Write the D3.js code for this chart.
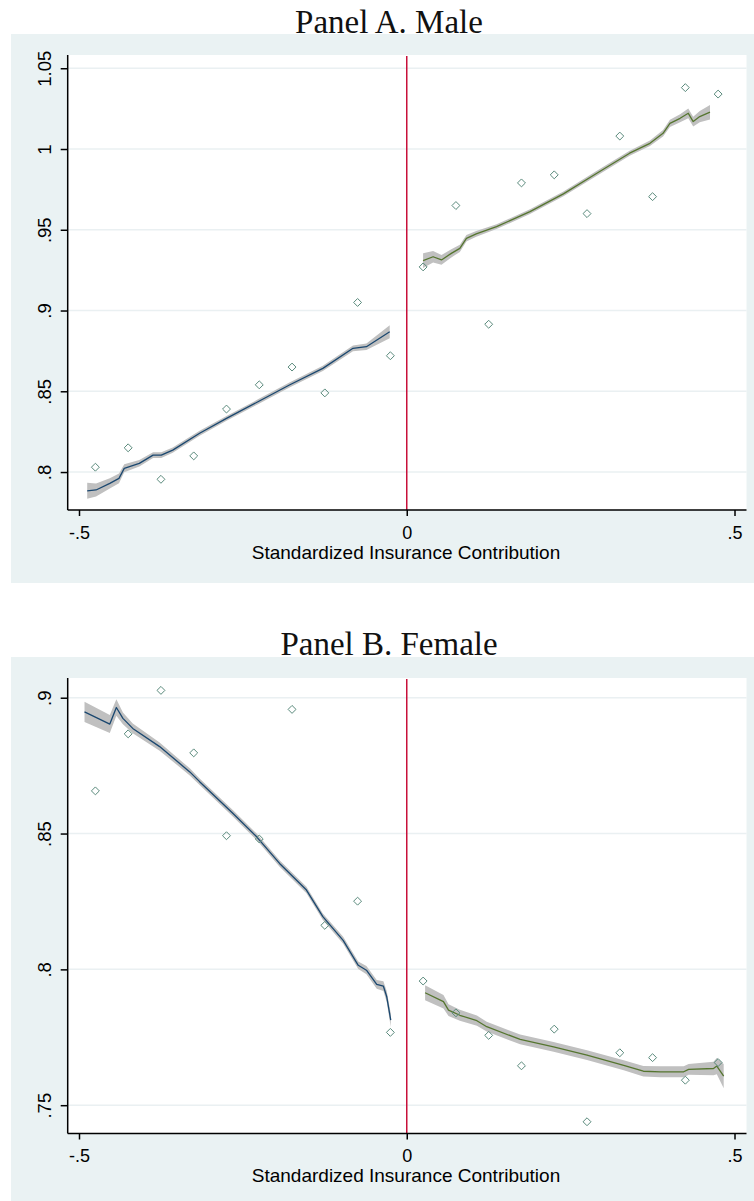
<!DOCTYPE html>
<html>
<head>
<meta charset="utf-8">
<script src="https://cdn.jsdelivr.net/npm/d3@7"></script>
<style>
  html, body { margin: 0; padding: 0; background: #ffffff; }
  svg { display: block; }
</style>
</head>
<body>
<svg id="chart" width="754" height="1201"></svg>
<script>
// ---- Data -----------------------------------------------------------------
const panelTitles = ["Panel A. Male", "Panel B. Female"];
const xAxisTitle = "Standardized Insurance Contribution";

const xTickValues = [-0.5, 0, 0.5];
const xTickLabels = ["-.5", "0", ".5"];

const maleYTickValues = [0.8, 0.85, 0.9, 0.95, 1, 1.05];
const maleYTickLabels = [".8", ".85", ".9", ".95", "1", "1.05"];
const femaleYTickValues = [0.75, 0.8, 0.85, 0.9];
const femaleYTickLabels = [".75", ".8", ".85", ".9"];

// bin centres of the scatter (binned means)
const binCenters = [-0.475, -0.425, -0.375, -0.325, -0.275, -0.225, -0.175, -0.125, -0.075, -0.025,
                    0.025, 0.075, 0.125, 0.175, 0.225, 0.275, 0.325, 0.375, 0.425, 0.475];
const maleBinMeans = [0.803, 0.815, 0.7955, 0.810, 0.839, 0.854, 0.865, 0.849, 0.905, 0.872,
                      0.927, 0.965, 0.8915, 0.979, 0.984, 0.960, 1.008, 0.9705, 1.038, 1.034];
const femaleBinMeans = [0.8657, 0.8867, 0.9027, 0.8797, 0.8492, 0.848, 0.8957, 0.8162, 0.8251, 0.7768,
                        0.7957, 0.784, 0.7757, 0.7645, 0.778, 0.7439, 0.7693, 0.7675, 0.7592, 0.7657];

// local fits below the cutoff (x, fitted value, CI half-width)
const maleLeftX    = [-0.4875, -0.474, -0.453, -0.439, -0.431, -0.408, -0.387, -0.3745, -0.357, -0.316, -0.275, -0.227, -0.179, -0.128, -0.082, -0.0615, -0.026];
const maleLeftFit  = [0.7884, 0.7889, 0.793, 0.7961, 0.8023, 0.8054, 0.8105, 0.8105, 0.8136, 0.824, 0.8332, 0.8435, 0.8539, 0.8642, 0.8766, 0.8776, 0.8869];
const maleLeftCI   = [0.005, 0.004, 0.0032, 0.003, 0.0025, 0.002, 0.0018, 0.0018, 0.0016, 0.0015, 0.0015, 0.0015, 0.0015, 0.0016, 0.0018, 0.002, 0.004];

// local fits above the cutoff
const maleRightX   = [0.0249, 0.0402, 0.053, 0.068, 0.081, 0.091, 0.106, 0.137, 0.188, 0.239, 0.290, 0.340, 0.371, 0.391, 0.4015, 0.417, 0.4295, 0.437, 0.447, 0.4626];
const maleRightFit = [0.9309, 0.9333, 0.9313, 0.9354, 0.9385, 0.9447, 0.9474, 0.9519, 0.9612, 0.9722, 0.985, 0.9974, 1.0035, 1.0097, 1.0159, 1.019, 1.0221, 1.017, 1.0201, 1.0228];
const maleRightCI  = [0.0045, 0.0035, 0.003, 0.0025, 0.0022, 0.002, 0.0018, 0.0015, 0.0015, 0.0015, 0.0015, 0.0015, 0.0017, 0.002, 0.0022, 0.0025, 0.003, 0.003, 0.0035, 0.0045];

const femaleLeftX   = [-0.4916, -0.453, -0.443, -0.433, -0.418, -0.377, -0.331, -0.316, -0.265, -0.229, -0.194, -0.153, -0.128, -0.097, -0.074, -0.0615, -0.0458, -0.0356, -0.0305, -0.0244];
const femaleLeftFit = [0.8948, 0.8903, 0.8964, 0.8924, 0.8887, 0.882, 0.8727, 0.8691, 0.8574, 0.8488, 0.839, 0.8292, 0.8194, 0.8107, 0.8015, 0.7997, 0.7945, 0.7938, 0.7899, 0.7813];
const femaleLeftCI  = [0.0037, 0.0033, 0.003, 0.0022, 0.0018, 0.0015, 0.0013, 0.0012, 0.0012, 0.0012, 0.0012, 0.0012, 0.0012, 0.0013, 0.0014, 0.0015, 0.0016, 0.0018, 0.002, 0.0025];

const femaleRightX   = [0.028, 0.056, 0.0637, 0.081, 0.107, 0.122, 0.173, 0.224, 0.275, 0.331, 0.361, 0.387, 0.4225, 0.43, 0.468, 0.473, 0.4835];
const femaleRightFit = [0.7914, 0.7881, 0.785, 0.7831, 0.7811, 0.7789, 0.7742, 0.7715, 0.7684, 0.7647, 0.7625, 0.7623, 0.7623, 0.7632, 0.7635, 0.7644, 0.7607];
const femaleRightCI  = [0.0028, 0.0025, 0.0022, 0.002, 0.0019, 0.0018, 0.0018, 0.0018, 0.0018, 0.0018, 0.0019, 0.002, 0.002, 0.002, 0.0025, 0.003, 0.0045];

// ---- Styling ----------------------------------------------------------------
const COL = {
  region: "#eaf2f3",
  grid: "#eaf0f2",
  band: "#c0c0c0",
  left: "#1a476f",
  right: "#55752f",
  marker: "#5a8a7c",
  cutoff: "#c8103a"
};

const svg = d3.select("#chart");

const panels = [
  {
    title: panelTitles[0], titleY: 32.5,
    regionTop: 34, regionBottom: 583,
    plotTop: 55, plotBottom: 510,
    yDomain: [0.7765, 1.0582],
    yTicks: maleYTickValues, yLabels: maleYTickLabels,
    means: maleBinMeans,
    fits: [
      { x: maleLeftX, fit: maleLeftFit, ci: maleLeftCI, color: COL.left },
      { x: maleRightX, fit: maleRightFit, ci: maleRightCI, color: COL.right }
    ]
  },
  {
    title: panelTitles[1], titleY: 655,
    regionTop: 657, regionBottom: 1201,
    plotTop: 678, plotBottom: 1133.5,
    yDomain: [0.73958, 0.90726],
    yTicks: femaleYTickValues, yLabels: femaleYTickLabels,
    means: femaleBinMeans,
    fits: [
      { x: femaleLeftX, fit: femaleLeftFit, ci: femaleLeftCI, color: COL.left },
      { x: femaleRightX, fit: femaleRightFit, ci: femaleRightCI, color: COL.right }
    ]
  }
];

const plotLeft = 67.7, plotRight = 746.5;
const x = d3.scaleLinear().domain([-0.51724, 0.5183]).range([plotLeft, plotRight]);

panels.forEach(p => {
  const g = svg.append("g");
  const y = d3.scaleLinear().domain(p.yDomain).range([p.plotBottom, p.plotTop]);

  // title
  g.append("text")
    .attr("x", 389).attr("y", p.titleY)
    .attr("text-anchor", "middle")
    .style("font-family", "'Liberation Serif', 'Times New Roman', serif")
    .style("font-size", "33px")
    .attr("fill", "#111")
    .text(p.title);

  // graph region and plot area
  g.append("rect")
    .attr("x", 11).attr("y", p.regionTop)
    .attr("width", 754 - 11).attr("height", p.regionBottom - p.regionTop)
    .attr("fill", COL.region);
  g.append("rect")
    .attr("x", plotLeft).attr("y", p.plotTop)
    .attr("width", plotRight - plotLeft).attr("height", p.plotBottom - p.plotTop)
    .attr("fill", "#ffffff");

  // horizontal gridlines
  g.append("g").selectAll("line").data(p.yTicks).join("line")
    .attr("x1", plotLeft).attr("x2", plotRight)
    .attr("y1", d => y(d)).attr("y2", d => y(d))
    .attr("stroke", COL.grid).attr("stroke-width", 1.5);

  // confidence bands and fitted lines
  p.fits.forEach(f => {
    const rows = f.x.map((xv, i) => ({ x: xv, fit: f.fit[i], ci: f.ci[i] }));
    g.append("path").datum(rows)
      .attr("fill", COL.band)
      .attr("d", d3.area()
        .x(d => x(d.x))
        .y0(d => y(d.fit - d.ci))
        .y1(d => y(d.fit + d.ci)));
    g.append("path").datum(rows)
      .attr("fill", "none")
      .attr("stroke", f.color)
      .attr("stroke-width", 1.3)
      .attr("stroke-linejoin", "round")
      .attr("d", d3.line().x(d => x(d.x)).y(d => y(d.fit)));
  });

  // binned means: hollow diamonds
  const diamond = d3.symbol().type(d3.symbolDiamond2).size(40);
  g.append("g").selectAll("path")
    .data(binCenters.map((c, i) => ({ x: c, v: p.means[i] })))
    .join("path")
    .attr("transform", d => `translate(${x(d.x)},${y(d.v)})`)
    .attr("d", diamond)
    .attr("fill", "none")
    .attr("stroke", COL.marker)
    .attr("stroke-width", 1);

  // cutoff at zero
  g.append("line")
    .attr("x1", x(0)).attr("x2", x(0))
    .attr("y1", p.plotTop + 1).attr("y2", p.plotBottom)
    .attr("stroke", COL.cutoff).attr("stroke-width", 1.5);

  // y axis
  const yAxis = g.append("g")
    .attr("transform", `translate(${plotLeft},0)`)
    .call(d3.axisLeft(y).tickValues(p.yTicks)
      .tickFormat((d, i) => p.yLabels[i])
      .tickSize(7).tickSizeOuter(0));
  yAxis.select(".domain").attr("stroke", "#000").attr("stroke-width", 1.5)
    .attr("d", `M0,${p.plotTop}V${p.plotBottom}`);
  yAxis.selectAll(".tick line").attr("stroke", "#000").attr("stroke-width", 1.5);
  yAxis.selectAll(".tick text")
    .attr("x", null).attr("dy", null)
    .attr("text-anchor", "middle")
    .attr("transform", "translate(-16.5,0) rotate(-90)")
    .attr("fill", "#000")
    .style("font-family", "'Liberation Sans', Arial, sans-serif")
    .style("font-size", "18.5px");

  // x axis
  const xAxis = g.append("g")
    .attr("transform", `translate(0,${p.plotBottom})`)
    .call(d3.axisBottom(x).tickValues(xTickValues)
      .tickFormat((d, i) => xTickLabels[i])
      .tickSize(6).tickSizeOuter(0));
  xAxis.select(".domain").attr("stroke", "#000").attr("stroke-width", 1.5)
    .attr("d", `M${plotLeft},0H${plotRight}`);
  xAxis.selectAll(".tick line").attr("stroke", "#000").attr("stroke-width", 1.5);
  xAxis.selectAll(".tick text")
    .attr("y", 28.5).attr("dy", null)
    .attr("fill", "#000")
    .style("font-family", "'Liberation Sans', Arial, sans-serif")
    .style("font-size", "18px");

  // x axis title
  g.append("text")
    .attr("x", 406).attr("y", p.plotBottom + 48.5)
    .attr("text-anchor", "middle")
    .attr("fill", "#000")
    .style("font-family", "'Liberation Sans', Arial, sans-serif")
    .style("font-size", "19px")
    .text(xAxisTitle);
});
</script>
</body>
</html>
